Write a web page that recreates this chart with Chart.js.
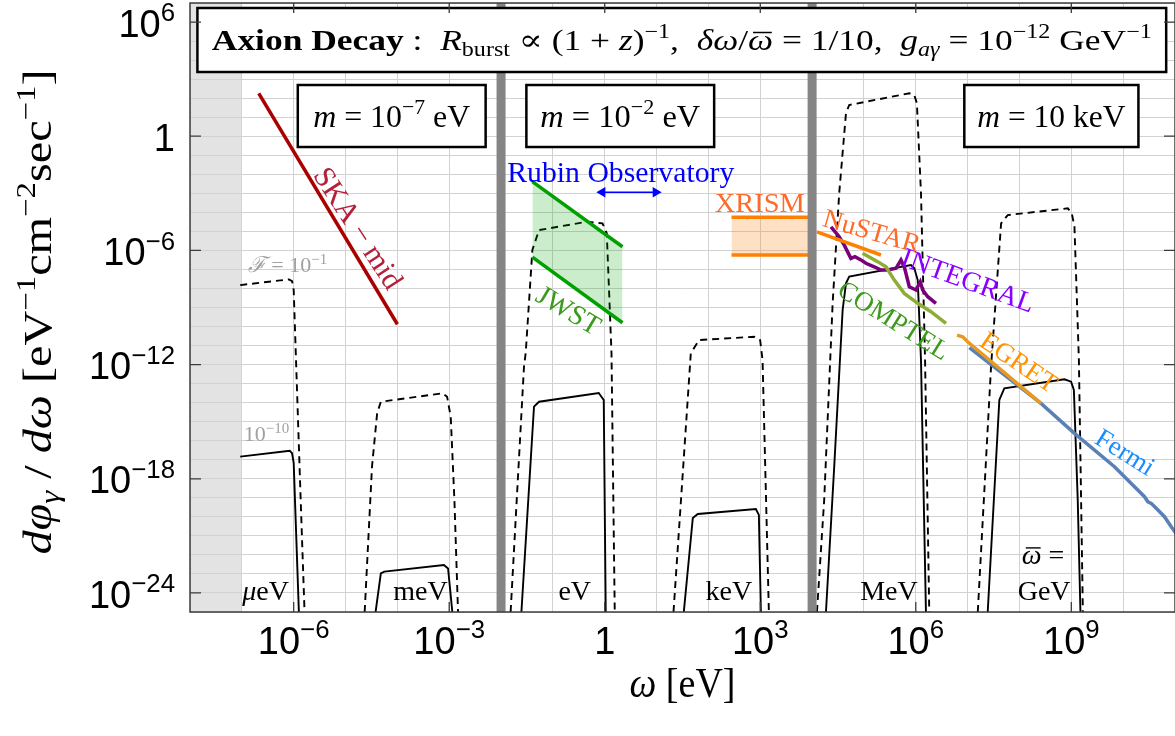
<!DOCTYPE html>
<html>
<head>
<meta charset="utf-8">
<script src="https://cdn.jsdelivr.net/npm/chart.js@4.4.1/dist/chart.umd.min.js"></script>
<style>
  html, body { margin: 0; padding: 0; background: #fff; }
  canvas { display: block; }
</style>
</head>
<body>
<canvas id="myChart" width="1175" height="736"></canvas>
<script>
// ω [eV] vs dφ/dω [eV^-1 cm^-2 s^-1]
const xTicks = [1e-6, 1e-3, 1, 1e3, 1e6, 1e9];
const xTickLabels = ['10^−6', '10^−3', '1', '10^3', '10^6', '10^9'];
const yTicks = [1e6, 1, 1e-6, 1e-12, 1e-18, 1e-24];
const yTickLabels = ['10^6', '1', '10^−6', '10^−12', '10^−18', '10^−24'];

const shadeBand = [1e-8, 1e-7];
const separators = [1e-2, 1e4];

// spectra: dashed = F 10^-1, solid = F 10^-10
const ueVDashed = [[9.3e-8, 1.5e-8], [8.1e-7, 3.0e-8], [9.3e-7, 2.45e-8], [1.0e-6, 8.3e-9], [1.35e-6, 1.8e-19], [1.62e-6, 1e-25]];
const ueVSolid = [[9.3e-8, 1.45e-17], [8.4e-7, 2.95e-17], [9.3e-7, 2.24e-17], [1.0e-6, 6.8e-18], [1.26e-6, 1e-25]];
const meVDashed = [[2.34e-5, 1e-25], [3.24e-5, 4.3e-18], [4.07e-5, 2.75e-15], [4.8e-5, 1.12e-14], [7.4e-4, 3.1e-14], [9.1e-4, 2.04e-14], [1.07e-3, 1.82e-15], [1.26e-3, 7.6e-20], [1.48e-3, 1e-25]];
const meVSolid = [[3.8e-5, 1e-25], [4.8e-5, 1.07e-23], [5.6e-5, 1.32e-23], [7.9e-4, 2.95e-23], [9.5e-4, 1.95e-23], [1.15e-3, 1e-25]];
const eVDashed = [[0.0153, 1e-25], [0.0277, 7.8e-13], [0.0299, 4.1e-12], [0.0402, 1.05e-6], [0.054, 1.17e-5], [0.463, 3.24e-5], [0.904, 2.63e-5], [1.094, 7.9e-6], [1.21, 8.3e-9], [1.35, 3.9e-12], [1.56, 1e-25]];
const eVSolid = [[0.0247, 1e-25], [0.0432, 6.2e-15], [0.054, 1.12e-14], [0.766, 3.24e-14], [0.957, 1.38e-14], [1.045, 1e-25]];
const keVDashed = [[21.2, 1e-25], [45.7, 3.9e-12], [66.1, 1.95e-11], [762, 2.9e-11], [995, 1.95e-11], [1107, 1.74e-12], [1466, 1e-25]];
const keVSolid = [[33.5, 1e-25], [50, 8.7e-21], [62.4, 1.41e-20], [822, 2.57e-20], [940, 1.26e-20], [1028, 1e-25]];
const MeVDashed = [[1.24e4, 1e-25], [1.71e4, 7.6e-20], [2.49e4, 1.66e-9], [3.33e4, 1e-3], [4.5e4, 16], [5.2e4, 43.7], [7.5e5, 180], [9.35e5, 147], [1.05e6, 53.7], [1.26e6, 1e-3], [1.51e6, 1.74e-12], [1.82e6, 1e-25]];
const MeVSolid = [[1.85e4, 1e-25], [2.67e4, 4.3e-18], [3.88e4, 7.4e-10], [4.5e4, 1.86e-8], [5.2e4, 4.2e-8], [8.07e5, 1.7e-7], [9.35e5, 1.15e-7], [1.09e6, 2.75e-8], [1.26e6, 1.74e-12], [1.57e6, 1e-25]];
const GeVDashed = [[1.57e7, 1e-25], [2.83e7, 7.8e-13], [4.42e7, 2.63e-5], [5.94e7, 7.2e-5], [8.55e8, 1.62e-4], [1.02e9, 8.9e-5], [1.15e9, 1.74e-5], [1.40e9, 1.74e-12], [1.67e9, 1e-25]];
const GeVSolid = [[2.44e7, 1e-25], [4.09e7, 1.38e-14], [5.1e7, 5.6e-14], [7.36e8, 1.7e-13], [9.9e8, 1.26e-13], [1.12e9, 4.6e-14], [1.33e9, 7.6e-20], [1.5e9, 1e-25]];

// telescope sensitivities
const skaMid = [[2.12e-7, 180], [1e-4, 1.32e-10]];
const jwstUpper = [[0.0402, 4.1e-3], [2.2, 1.55e-6]];
const jwstLower = [[0.0402, 4.4e-7], [2.2, 1.58e-10]];
const rubinArrow = [[0.9, 1.13e-3], [9.6, 1.13e-3]];
const xrismUpper = [[279, 5.5e-5], [1e4, 5.5e-5]];
const xrismLower = [[279, 5.75e-7], [1e4, 5.75e-7]];
const nustar = [[1.24e4, 9.5e-6], [2.13e5, 5.75e-7]];
const integral = [[2.31e4, 1.74e-5], [3.33e4, 5.25e-6], [4.17e4, 1.9e-6], [5.6e4, 3.8e-7], [6.7e4, 4.7e-7], [8.75e4, 3.16e-7], [1.09e5, 2.1e-7], [1.58e5, 1.38e-7], [2.13e5, 9.3e-8], [2.87e5, 9.3e-8], [4.15e5, 1.15e-7], [5.18e5, 3.16e-7], [6.0e5, 1.38e-7], [7.5e5, 1.23e-8], [1.01e6, 8.3e-9], [1.22e6, 2.24e-8], [1.36e6, 8.3e-9], [1.7e6, 3.7e-9], [2.45e6, 1.66e-9]];
const comptel = [[9.4e4, 7.1e-7], [1.84e5, 2.57e-7], [2.66e5, 1.38e-7], [3.85e5, 2.75e-8], [6.0e5, 5.5e-9], [1.09e6, 1.66e-9], [1.96e6, 6.0e-10], [3.83e6, 1.48e-10]];
const egret = [[6.24e6, 3.55e-11], [8.0e6, 2.9e-11], [1.0e7, 1.58e-11], [2.6e8, 9.1e-15]];
const fermi = [[1.08e7, 7.8e-12], [2.6e8, 9.1e-15], [1.15e9, 2.45e-16], [6.8e9, 4.3e-18], [2.58e10, 1.15e-19], [3.0e10, 6.2e-20], [3.48e10, 5.1e-20], [4.34e10, 2.8e-20], [6.27e10, 1.02e-20], [8.45e10, 3.0e-21], [1.05e11, 1.35e-21]];

const SERIF = '"Liberation Serif", "DejaVu Serif", serif';
const SANS = '"Liberation Sans", "DejaVu Sans", sans-serif';

const t = (s, o) => Object.assign({ t: s }, o || {});

function fontOf(r, size) {
  const s = (r.sup || r.sub) ? size * 0.68 : size;
  return (r.i ? 'italic ' : '') + (r.b ? 'bold ' : '') + s.toFixed(1) + 'px ' + (r.sans ? SANS : SERIF);
}
function runsWidth(ctx, runs, size) {
  let w = 0;
  runs.forEach(r => { ctx.font = fontOf(r, size); w += ctx.measureText(r.t).width; });
  return w;
}
// draws a list of text runs (italic / sub / sup) centred on cx, cy
function drawRuns(ctx, runs, cx, cy, size, o) {
  o = o || {};
  const w = runsWidth(ctx, runs, size);
  const sx = o.width ? o.width / w : 1;
  ctx.save();
  ctx.translate(cx, cy);
  if (o.rot) ctx.rotate(o.rot * Math.PI / 180);
  ctx.scale(sx, 1);
  ctx.fillStyle = o.color || '#000';
  ctx.strokeStyle = o.color || '#000';
  ctx.textBaseline = 'alphabetic';
  ctx.textAlign = 'left';
  let px = o.align === 'right' ? -w : -w / 2;
  const base = size * 0.33;
  runs.forEach(r => {
    ctx.font = fontOf(r, size);
    const dy = r.sup ? -size * 0.4 : r.sub ? size * 0.2 : 0;
    const tw = ctx.measureText(r.t).width;
    ctx.fillText(r.t, px, base + dy);
    if (r.bar) {
      ctx.lineWidth = size * 0.05;
      ctx.beginPath();
      ctx.moveTo(px + tw * 0.2, base + dy - size * 0.58);
      ctx.lineTo(px + tw * 0.95, base + dy - size * 0.58);
      ctx.stroke();
    }
    px += tw;
  });
  ctx.restore();
}
function tickRuns(s) {
  const p = s.split('^');
  return p[1] ? [t(p[0], { sans: 1 }), t(p[1], { sans: 1, sup: 1 })] : [t(p[0], { sans: 1 })];
}

const notes = [
  { runs: [t('SKA − mid')], at: [1.78e-5, 1.5e-5], rot: 57, color: '#b3203a', size: 30 },
  { runs: [t('Rubin Observatory')], at: [2.04, 1.32e-2], color: '#0000ff', size: 29, width: 227 },
  { runs: [t('JWST')], at: [0.202, 7.4e-10], rot: 31, color: '#3a9a1c', size: 28 },
  { runs: [t('XRISM')], at: [980, 3.1e-4], color: '#ff6a28', size: 28, width: 90 },
  { runs: [t('NuSTAR')], at: [1.43e5, 1.05e-5], rot: 16, color: '#ff6a28', size: 27 },
  { runs: [t('INTEGRAL')], at: [1.02e7, 2.75e-8], rot: 20, color: '#8a00ff', size: 28 },
  { runs: [t('COMPTEL')], at: [3.8e5, 2.2e-10], rot: 32, color: '#3c9a1c', size: 27 },
  { runs: [t('EGRET')], at: [9.8e7, 1.38e-12], rot: 34, color: '#ff9400', size: 27 },
  { runs: [t('Fermi')], at: [1.1e10, 2.57e-17], rot: 32, color: '#1a8cff', size: 27 },
  { runs: [t('ℱ', { i: 1 }), t(' = 10'), t('−1', { sup: 1 })], at: [7.6e-7, 1.7e-7], color: '#a0a0a0', size: 22 },
  { runs: [t('10'), t('−10', { sup: 1 })], at: [3.0e-7, 2.24e-16], color: '#a0a0a0', size: 22 },
  { runs: [t('μ', { i: 1 }), t('eV')], at: [2.86e-7, 1.3e-24], size: 28 },
  { runs: [t('meV')], at: [2.8e-4, 1.3e-24], size: 28 },
  { runs: [t('eV')], at: [0.264, 1.3e-24], size: 28 },
  { runs: [t('keV')], at: [248, 1.3e-24], size: 28 },
  { runs: [t('MeV')], at: [3.04e5, 1.3e-24], size: 28 },
  { runs: [t('GeV')], at: [2.99e8, 1.3e-24], size: 28 },
  { runs: [t('ω', { i: 1, bar: 1 }), t(' =')], at: [2.86e8, 1e-22], size: 28 }
];

const boxes = [
  { from: [1.39e-8, 5.46e6], to: [6.76e10, 2366], size: 30, width: 940,
    runs: [t('Axion Decay', { b: 1 }), t(' :  '), t('R', { i: 1 }), t('burst', { sub: 1 }), t(' ∝ (1 + '), t('z', { i: 1 }), t(')'), t('−1', { sup: 1 }),
           t(',  '), t('δω', { i: 1 }), t('/'), t('ω', { i: 1, bar: 1 }), t(' = 1/10,  '), t('g', { i: 1 }), t('aγ', { sub: 1, i: 1 }),
           t(' = 10'), t('−12', { sup: 1 }), t(' GeV'), t('−1', { sup: 1 })] },
  { from: [1.2e-6, 491], to: [5.04e-3, 0.271], size: 32, width: 157,
    runs: [t('m', { i: 1 }), t(' = 10'), t('−7', { sup: 1 }), t(' eV')] },
  { from: [0.0308, 491], to: [129, 0.271], size: 32, width: 160,
    runs: [t('m', { i: 1 }), t(' = 10'), t('−2', { sup: 1 }), t(' eV')] },
  { from: [8.63e6, 491], to: [1.97e10, 0.271], size: 32, width: 148,
    runs: [t('m', { i: 1 }), t(' = 10 keV')] }
];

const yTitleRuns = [t('dφ', { i: 1 }), t('γ', { sub: 1, i: 1 }), t(' / '), t('dω', { i: 1 }), t(' [eV'), t('−1', { sup: 1 }), t('cm'), t('−2', { sup: 1 }), t('sec'), t('−1', { sup: 1 }), t(']')];
const xTitleRuns = [t('ω', { i: 1 }), t(' [eV]')];

const toXY = pts => pts.map(p => ({ x: p[0], y: p[1] }));

function curve(pts, dashed) {
  return { data: toXY(pts), showLine: true, borderColor: '#000', borderWidth: 1.9, borderDash: dashed ? [7, 5] : [],
           pointRadius: 0, fill: false, tension: 0, order: 2 };
}
function limit(pts, color, extra) {
  return Object.assign({ data: toXY(pts), showLine: true, borderColor: color, borderWidth: 3.5, pointRadius: 0,
           fill: false, tension: 0, order: 0 }, extra || {});
}

const datasets = [
  limit(skaMid, '#aa0000'),
  limit(jwstUpper, '#00a000', { fill: '+1', backgroundColor: 'rgba(0,165,0,0.2)' }),
  limit(jwstLower, '#00a000'),
  limit(xrismUpper, '#ff8000', { fill: '+1', backgroundColor: 'rgba(250,130,20,0.25)' }),
  limit(xrismLower, '#ff8000'),
  limit(nustar, '#ff8000'),
  limit(egret, '#e89a1e'),
  limit(comptel, '#8cae34'),
  limit(integral, '#780078'),
  limit(fermi, '#5a80b6'),
  limit(rubinArrow, '#0000ff', { borderWidth: 1.5, pointRadius: 6, pointStyle: 'triangle', pointRotation: [270, 90],
        pointBackgroundColor: '#0000ff', pointBorderColor: '#0000ff', pointBorderWidth: 0 }),
  curve(ueVDashed, true), curve(ueVSolid, false),
  curve(meVDashed, true), curve(meVSolid, false),
  curve(eVDashed, true), curve(eVSolid, false),
  curve(keVDashed, true), curve(keVSolid, false),
  curve(MeVDashed, true), curve(MeVSolid, false),
  curve(GeVDashed, true), curve(GeVSolid, false)
];

const decades = (lo, hi) => { const a = []; for (let e = lo; e <= hi; e++) a.push({ value: Math.pow(10, e) }); return a; };

const decor = {
  id: 'decor',
  beforeDraw(chart) {
    const { ctx, chartArea: a, scales } = chart;
    const x0 = scales.x.getPixelForValue(shadeBand[0]);
    const x1 = scales.x.getPixelForValue(shadeBand[1]);
    ctx.save();
    ctx.fillStyle = '#e3e3e3';
    ctx.fillRect(x0, a.top, x1 - x0, a.bottom - a.top);
    ctx.restore();
  },
  afterDatasetsDraw(chart) {
    const { ctx, chartArea: a, scales: { x, y } } = chart;
    ctx.save();
    ctx.beginPath();
    ctx.rect(a.left, a.top, a.right - a.left, a.bottom - a.top);
    ctx.clip();
    ctx.fillStyle = '#858585';
    separators.forEach(v => {
      const p = x.getPixelForValue(v);
      ctx.fillRect(p - 4.5, a.top, 9, a.bottom - a.top);
    });
    ctx.restore();

    notes.forEach(n => drawRuns(ctx, n.runs, x.getPixelForValue(n.at[0]), y.getPixelForValue(n.at[1]), n.size, n));

    boxes.forEach(b => {
      const l = x.getPixelForValue(b.from[0]), tp = y.getPixelForValue(b.from[1]);
      const r = x.getPixelForValue(b.to[0]), bt = y.getPixelForValue(b.to[1]);
      ctx.save();
      ctx.fillStyle = '#fff';
      ctx.strokeStyle = '#000';
      ctx.lineWidth = 2.5;
      ctx.fillRect(l, tp, r - l, bt - tp);
      ctx.strokeRect(l, tp, r - l, bt - tp);
      ctx.restore();
      drawRuns(ctx, b.runs, (l + r) / 2, (tp + bt) / 2, b.size, { width: b.width });
    });
  },
  afterDraw(chart) {
    const { ctx, chartArea: a, scales: { x, y } } = chart;
    ctx.save();
    ctx.strokeStyle = '#3c3c3c';
    ctx.lineWidth = 1.5;
    ctx.strokeRect(a.left, a.top, a.right - a.left, a.bottom - a.top);
    ctx.lineWidth = 1.3;
    ctx.beginPath();
    xTicks.forEach(v => {
      const p = x.getPixelForValue(v);
      ctx.moveTo(p, a.bottom); ctx.lineTo(p, a.bottom - 10);
      ctx.moveTo(p, a.top); ctx.lineTo(p, a.top + 10);
    });
    yTicks.forEach(v => {
      const p = y.getPixelForValue(v);
      ctx.moveTo(a.left, p); ctx.lineTo(a.left + 11, p);
      ctx.moveTo(a.right, p); ctx.lineTo(a.right - 11, p);
    });
    ctx.stroke();
    ctx.restore();

    xTicks.forEach((v, i) => drawRuns(ctx, tickRuns(xTickLabels[i]), x.getPixelForValue(v), a.bottom + 29, 38));
    yTicks.forEach((v, i) => drawRuns(ctx, tickRuns(yTickLabels[i]), a.left - 15, y.getPixelForValue(v) + 2, 38, { align: 'right' }));

    drawRuns(ctx, yTitleRuns, 38, 312, 40, { rot: -90, width: 485 });
    drawRuns(ctx, xTitleRuns, (a.left + a.right) / 2, 683, 42, { width: 106 });
  }
};

const config = {
  type: 'scatter',
  data: { datasets: datasets },
  options: {
    responsive: false,
    animation: false,
    devicePixelRatio: 1,
    layout: { autoPadding: false, padding: { left: 190, top: 3, right: 0, bottom: 124 } },
    plugins: { legend: { display: false }, tooltip: { enabled: false } },
    scales: {
      x: {
        type: 'logarithmic', min: 1e-8, max: 1e11,
        ticks: { display: false },
        grid: { color: '#d2d2d2', lineWidth: 1, drawTicks: false },
        border: { display: false },
        afterBuildTicks: s => { s.ticks = decades(-8, 11); }
      },
      y: {
        type: 'logarithmic', min: 1e-25, max: 1e7,
        ticks: { display: false },
        grid: { color: '#d2d2d2', lineWidth: 1, drawTicks: false },
        border: { display: false },
        afterBuildTicks: s => { s.ticks = decades(-25, 7); }
      }
    }
  },
  plugins: [decor]
};

var ctx = document.getElementById('myChart').getContext('2d');
new Chart(ctx, config);
</script>
</body>
</html>
